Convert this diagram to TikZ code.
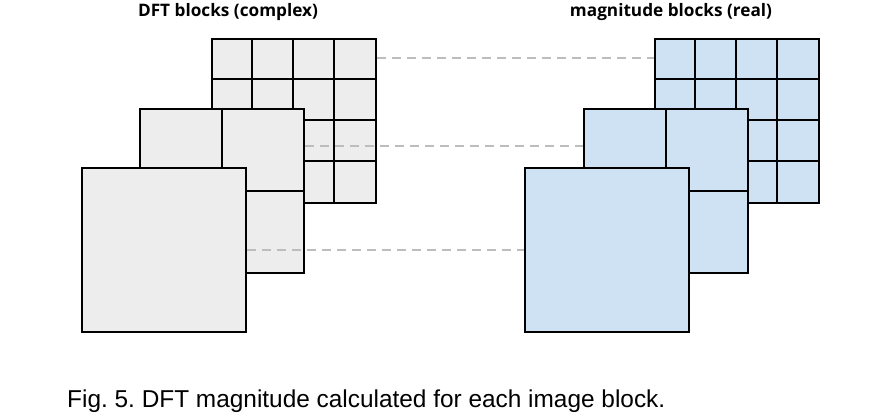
\documentclass[tikz,border=0pt]{standalone}
\usepackage{fontspec}
\usetikzlibrary{calc}
\setmainfont{Liberation Sans}
\newfontfamily\titlefont{Open Sans}
\definecolor{dftgray}{HTML}{EDEDED}
\definecolor{magblue}{HTML}{CFE2F3}
\definecolor{dashgray}{HTML}{BDBDBD}
\frenchspacing
\begin{document}
\begin{tikzpicture}[x=1pt,y=-1pt,
  block/.style={draw=black,line width=2pt,rectangle,minimum width=164pt,minimum height=164pt,inner sep=0pt,anchor=north west},
  gridline/.style={draw=black,line width=1.6pt},
  conn/.style={draw=dashgray,line width=2pt,dash pattern=on 9pt off 6pt},
  title/.style={font=\titlefont\bfseries\fontsize{17.2}{20}\selectfont,anchor=base},
  caption/.style={font=\fontsize{24.4}{28}\selectfont,anchor=base west,inner sep=0pt}]
\useasboundingbox (0,0) rectangle (871,420);
% left group (DFT, gray)
\node[block,fill=dftgray] (lb) at (211,38) {};
\foreach \k in {1,2,3}{
  \draw[gridline] ($(lb.north west)+(41*\k,0)$) -- ($(lb.south west)+(41*\k,0)$);
  \draw[gridline] ($(lb.north west)+(0,41*\k)$) -- ($(lb.north east)+(0,41*\k)$);
}
\node[block] at (211,38) {};
\node[block,fill=dftgray] (lm) at (139,108) {};
\draw[gridline] (lm.north) -- (lm.south);
\draw[gridline] (lm.west) -- (lm.east);
\node[block] at (139,108) {};
\node[block,fill=dftgray] (lf) at (81,167) {};
% right group (magnitude, blue)
\node[block,fill=magblue] (rb) at (654,38) {};
\foreach \k in {1,2,3}{
  \draw[gridline] ($(rb.north west)+(41*\k,0)$) -- ($(rb.south west)+(41*\k,0)$);
  \draw[gridline] ($(rb.north west)+(0,41*\k)$) -- ($(rb.north east)+(0,41*\k)$);
}
\node[block] at (654,38) {};
\node[block,fill=magblue] (rm) at (583,108) {};
\draw[gridline] (rm.north) -- (rm.south);
\draw[gridline] (rm.west) -- (rm.east);
\node[block] at (583,108) {};
\node[block,fill=magblue] (rf) at (524,167) {};
% connectors
\coordinate (y1) at (0,58.5);
\coordinate (y2) at (0,145.5);
\coordinate (y3) at (0,249.5);
\draw[conn] (lb.east |- y1) -- (rb.west |- y1);
\draw[conn] (lm.east |- y2) -- (rm.west |- y2);
\draw[conn] (lf.east |- y3) -- (rf.west |- y3);
% titles
\node[title] (t1) at (228,17) {DFT blocks (complex)};
\node[title] (t2) at (671,17) {magnitude blocks (real)};
% caption
\node[caption] (cap) at (67,407.5) {Fig. 5. DFT magnitude calculated for each image block.};
\end{tikzpicture}
\end{document}
